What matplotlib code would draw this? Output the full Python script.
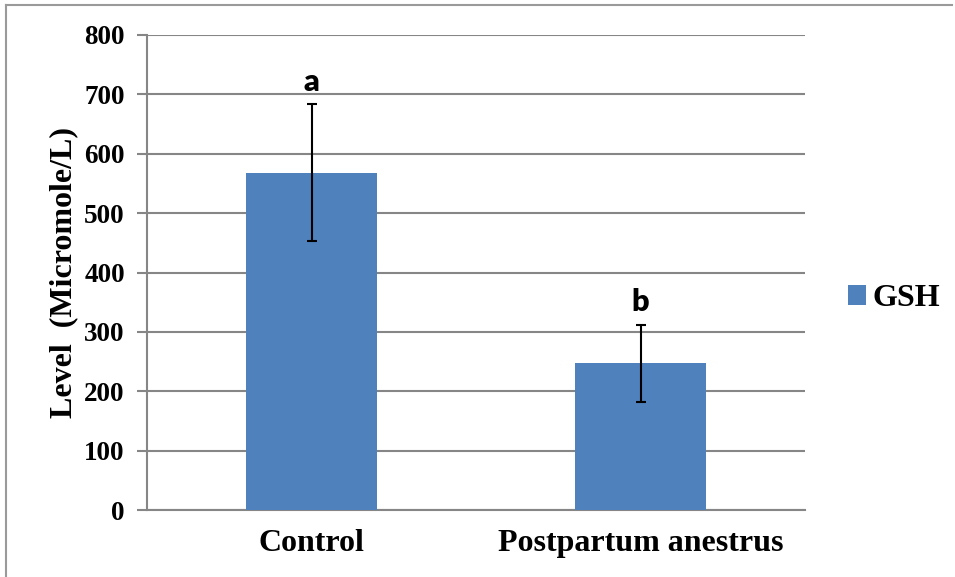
import matplotlib
matplotlib.use('Agg')
import matplotlib.pyplot as plt
from matplotlib.lines import Line2D

categories = ['Control', 'Postpartum anestrus']
gsh_means = [568, 247]
gsh_errors = [115, 65]
sig_letters = ['a', 'b']
y_ticks = [0, 100, 200, 300, 400, 500, 600, 700, 800]

serif = 'Liberation Serif'
bar_color = '#4F81BD'
grid_color = '#868686'

fig = plt.figure(figsize=(9.55, 5.77), dpi=100)
ax = fig.add_axes([147 / 955, 1 - 510 / 577, (805 - 147) / 955, (510 - 35) / 577])

x = list(range(len(categories)))
ax.bar(x, gsh_means, width=0.40, color=bar_color, zorder=3, label='GSH')
ax.errorbar(x, gsh_means, yerr=gsh_errors, fmt='none', ecolor='black',
            elinewidth=1.5, capsize=3.8, capthick=1.5, zorder=4)
for xi, m, e, s in zip(x, gsh_means, gsh_errors, sig_letters):
    ax.text(xi, m + e + 14, s, ha='center', va='bottom', fontsize=22,
            fontweight='heavy', family='Lato')

ax.set_xlim(-0.5, 1.5)
ax.set_ylim(0, 800)
ax.set_yticks(y_ticks)
ax.set_xticks(x)
ax.set_xticklabels(categories, fontsize=23, fontweight='bold', family=serif)
ax.set_yticklabels([str(v) for v in y_ticks], fontsize=19.5, fontweight='bold', family=serif)
ax.tick_params(axis='x', length=0, pad=14)
ax.tick_params(axis='y', length=7, width=1.5, color=grid_color, pad=9)
ax.grid(axis='y', color=grid_color, linewidth=1.5, zorder=0)
for side in ['top', 'right']:
    ax.spines[side].set_visible(False)
for side in ['left', 'bottom']:
    ax.spines[side].set_color(grid_color)
    ax.spines[side].set_linewidth(1.5)

ax.set_ylabel('Level  (Micromole/L)', fontsize=23, fontweight='bold', family=serif, labelpad=4)

leg = ax.legend(loc='upper left', bbox_to_anchor=(842 / 955, 1 - 278 / 577),
                bbox_transform=fig.transFigure, frameon=False,
                prop={'family': serif, 'weight': 'bold', 'size': 23},
                handlelength=0.55, handleheight=0.55, handletextpad=0.2,
                borderaxespad=0, borderpad=0.2)

# outer frame (top and left edges only)
fig.add_artist(Line2D([6 / 955, 952 / 955], [1 - 5 / 577, 1 - 5 / 577],
                      transform=fig.transFigure, color='#9a9a9a', linewidth=1.5))
fig.add_artist(Line2D([6 / 955, 6 / 955], [0, 1 - 5 / 577],
                      transform=fig.transFigure, color='#9a9a9a', linewidth=1.5))

fig.savefig('out.png', dpi=100)
